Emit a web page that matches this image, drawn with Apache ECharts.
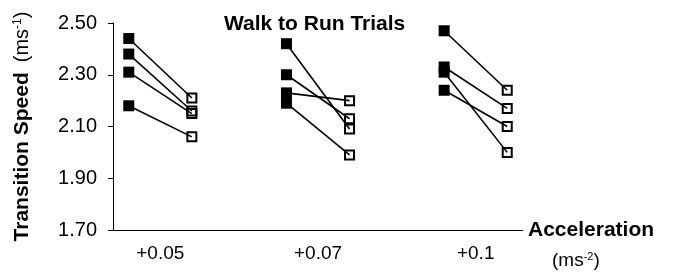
<!DOCTYPE html>
<html>
<head>
<meta charset="utf-8">
<script src="https://cdn.jsdelivr.net/npm/echarts@6/dist/echarts.min.js"></script>
<style>
  html, body { margin: 0; padding: 0; background: #fff; }
  #chart { width: 680px; height: 273px; }
</style>
</head>
<body>
<div id="chart"></div>
<script>
// acceleration groups
var categories = ['+0.05', '+0.07', '+0.1']
// walk speed (filled squares) and run speed (open squares), 4 trials per group
var walkSpeed = [
  [2.44, 2.38, 2.31, 2.18],
  [2.42, 2.30, 2.23, 2.19],
  [2.47, 2.33, 2.31, 2.24]
]
var runSpeed = [
  [2.21, 2.16, 2.15, 2.06],
  [2.09, 2.13, 2.20, 1.99],
  [2.24, 2.17, 2.00, 2.10]
]
var yTicks = [1.70, 1.90, 2.10, 2.30, 2.50]

var font = "'Liberation Sans', Arial, sans-serif"
var chart = echarts.init(document.getElementById('chart'))

// one short line per trial, from walk point to run point
var series = []
categories.forEach(function (c, g) {
  walkSpeed[g].forEach(function (w, i) {
    series.push({
      type: 'line',
      symbol: 'rect',
      silent: true,
      animation: false,
      lineStyle: { color: '#000', width: 1.6 },
      z: 2,
      data: [
        { value: [g + 1 - 0.2, w], symbolSize: 11, itemStyle: { color: '#000', borderWidth: 0 } },
        { value: [g + 1 + 0.2, runSpeed[g][i]], symbolSize: 9, itemStyle: { color: 'transparent', borderColor: '#000', borderWidth: 2 } }
      ]
    })
  })
})

var option = {
  backgroundColor: '#fff',
  animation: false,
  title: {
    text: 'Walk to Run Trials',
    left: 224,
    top: 14,
    padding: 0,
    textStyle: { fontFamily: font, fontSize: 21, fontWeight: 'bold', color: '#000' }
  },
  grid: { left: 113, right: 157, top: 23, bottom: 43 },
  xAxis: {
    type: 'value',
    min: 0.7,
    max: 3.3,
    name: 'Acceleration',
    nameLocation: 'end',
    nameGap: 5,
    nameTextStyle: { fontFamily: font, fontSize: 21, fontWeight: 'bold', color: '#000', verticalAlign: 'middle' },
    axisLine: { show: true, onZero: false, lineStyle: { color: '#000', width: 1 } },
    axisTick: { show: false },
    splitLine: { show: false },
    axisLabel: {
      customValues: [1, 2, 3],
      margin: 14,
      fontFamily: font,
      fontSize: 19,
      color: '#000',
      formatter: function (v) { return categories[Math.round(v) - 1] }
    }
  },
  yAxis: {
    type: 'value',
    min: 1.7,
    max: 2.5,
    name: '{b|Transition Speed}   {n|(ms}{s|-1}{n|)}',
    nameLocation: 'middle',
    nameRotate: 90,
    nameGap: 80,
    nameTextStyle: {
      rich: {
        b: { fontFamily: font, fontSize: 21, fontWeight: 'bold', color: '#000' },
        n: { fontFamily: font, fontSize: 20, color: '#000' },
        s: { fontFamily: font, fontSize: 12, color: '#000', verticalAlign: 'top', padding: [0, 0, 9, 0] }
      }
    },
    axisLine: { show: true, lineStyle: { color: '#000', width: 1 } },
    axisTick: { show: true, customValues: yTicks, length: 5, lineStyle: { color: '#000' } },
    splitLine: { show: false },
    axisLabel: {
      customValues: yTicks,
      margin: 16,
      fontFamily: font,
      fontSize: 20,
      color: '#000',
      formatter: function (v) { return v.toFixed(2) }
    }
  },
  graphic: [{
    type: 'text',
    left: 552,
    top: 251,
    style: {
      text: '{n|(ms}{s|-2}{n|)}',
      rich: {
        n: { fontFamily: font, fontSize: 19, fill: '#000' },
        s: { fontFamily: font, fontSize: 11, fill: '#000', verticalAlign: 'top', padding: [0, 0, 8, 0] }
      }
    }
  }],
  series: series
}

chart.setOption(option)
</script>
</body>
</html>
